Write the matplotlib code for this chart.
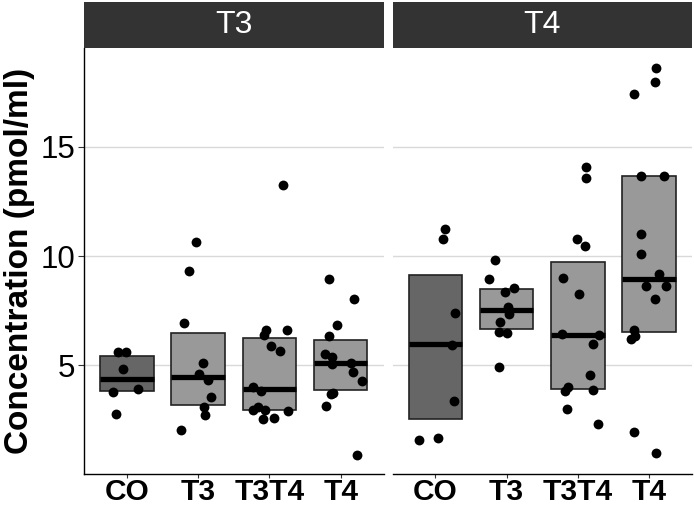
import matplotlib
matplotlib.use("Agg")
import matplotlib.pyplot as plt
from matplotlib.patches import Rectangle

plt.rcParams['font.family'] = ['Liberation Sans', 'DejaVu Sans']

groups = ["CO", "T3", "T3T4", "T4"]
facets = ["T3", "T4"]

# box stats (lower quartile, median, upper quartile) per facet
t3_lower = [3.83, 3.20, 2.96, 3.87]
t3_median = [4.36, 4.45, 3.92, 5.09]
t3_upper = [5.43, 6.49, 6.27, 6.16]

t4_lower = [2.53, 6.65, 3.93, 6.54]
t4_median = [5.96, 7.53, 6.40, 8.93]
t4_upper = [9.12, 8.49, 9.73, 13.67]

# individual points: values and jitter offsets
t3_values = [
    [5.61, 5.61, 4.82, 3.78, 3.93, 2.77],
    [10.66, 9.31, 6.95, 5.12, 4.60, 4.33, 3.55, 3.09, 2.73, 2.03],
    [13.25, 6.62, 6.60, 6.37, 5.87, 5.66, 3.99, 3.81, 3.11, 2.96, 2.96, 2.93, 2.53, 2.58],
    [8.93, 8.02, 6.83, 6.36, 5.50, 5.37, 5.06, 5.09, 4.71, 4.30, 3.72, 3.68, 3.16, 0.90],
]
t3_jitter = [
    [-0.117, -0.014, -0.056, -0.187, 0.164, -0.150],
    [-0.023, -0.126, -0.201, 0.070, 0.019, 0.145, 0.187, 0.084, 0.093, -0.234],
    [0.187, -0.051, 0.252, -0.070, 0.023, 0.150, -0.224, -0.117, -0.154, -0.224, -0.056, 0.257, -0.084, 0.061],
    [-0.164, 0.187, -0.047, -0.164, -0.224, -0.117, -0.126, 0.145, 0.178, 0.299, -0.112, -0.130, -0.210, 0.234],
]

t4_values = [
    [11.23, 10.79, 7.41, 5.95, 3.38, 1.59, 1.66],
    [9.83, 8.95, 8.52, 8.34, 7.68, 7.35, 6.97, 6.54, 6.48, 4.91],
    [14.05, 13.58, 10.76, 10.46, 8.99, 8.26, 6.45, 6.40, 5.99, 4.56, 3.99, 3.84, 3.89, 2.99, 2.30],
    [18.60, 17.97, 17.39, 13.67, 13.67, 11.02, 10.08, 9.16, 8.64, 8.64, 8.03, 6.60, 6.36, 6.19, 1.94, 0.98],
]
t4_jitter = [
    [0.131, 0.103, 0.276, 0.234, 0.266, -0.234, 0.037],
    [-0.168, -0.248, 0.098, -0.028, 0.014, 0.037, -0.089, -0.112, 0.009, -0.107],
    [0.112, 0.117, -0.009, 0.093, -0.206, 0.009, -0.220, 0.290, 0.206, 0.173, -0.140, -0.187, 0.210, -0.154, 0.276],
    [0.093, 0.084, -0.215, -0.117, 0.201, -0.112, -0.117, 0.131, -0.051, 0.238, 0.075, -0.210, -0.206, -0.257, -0.220, 0.093],
]

box_fill = ["#666666", "#999999", "#999999", "#999999"]

W, H = 694, 512
fig = plt.figure(figsize=(W / 100, H / 100), dpi=100)

panel_left = [84, 392.5]
panel_w = 299.5
panel_top, panel_bottom = 48.3, 474.3

data = [
    (t3_lower, t3_median, t3_upper, t3_values, t3_jitter),
    (t4_lower, t4_median, t4_upper, t4_values, t4_jitter),
]

for k, (lo, med, up, vals, jit) in enumerate(data):
    ax = fig.add_axes([panel_left[k] / W, (H - panel_bottom) / H,
                       panel_w / W, (panel_bottom - panel_top) / H])
    ax.set_xlim(-0.6, 3.6)
    ax.set_ylim(0.02, 19.5)
    ax.set_yticks([5, 10, 15])
    ax.set_xticks(range(len(groups)))
    ax.set_xticklabels(groups, fontsize=21.5, fontweight="bold")
    ax.grid(axis="y", color="#d9d9d9", linewidth=1.0)
    ax.set_axisbelow(True)
    for s in ["top", "right"]:
        ax.spines[s].set_visible(False)
    ax.spines["bottom"].set_linewidth(1.0)
    ax.spines["bottom"].set_color("black")
    ax.tick_params(axis="x", length=3, width=0.8, color="#333333", pad=0)
    if k == 0:
        ax.spines["left"].set_linewidth(1.0)
        ax.spines["left"].set_color("black")
        ax.tick_params(axis="y", length=4.5, width=0.8, color="#333333",
                       labelsize=22.5, pad=2)
        ax.set_ylabel("Concentration (pmol/ml)", fontsize=24, fontweight="bold",
                      labelpad=4)
    else:
        ax.spines["left"].set_visible(False)
        ax.tick_params(axis="y", left=False, labelleft=False)

    for i in range(len(groups)):
        ax.add_patch(Rectangle((i - 0.375, lo[i]), 0.75, up[i] - lo[i],
                               facecolor=box_fill[i], edgecolor="#222222",
                               linewidth=1.2, zorder=2))
        ax.plot([i - 0.375, i + 0.375], [med[i], med[i]], color="black",
                linewidth=3.8, solid_capstyle="butt", zorder=3)
        xs = [i + d for d in jit[i]]
        ax.scatter(xs, vals[i], s=50, color="black", linewidths=0, zorder=4)

    # facet strip
    fig.patches.append(Rectangle((panel_left[k] / W, (H - panel_top) / H),
                                 panel_w / W, (panel_top - 2.3) / H,
                                 transform=fig.transFigure, facecolor="#333333",
                                 edgecolor="none"))
    fig.text((panel_left[k] + panel_w / 2) / W, (H - (panel_top + 2.3) / 2) / H,
             facets[k], color="white", fontsize=23, ha="center", va="center")

fig.savefig("out.png", dpi=100)
